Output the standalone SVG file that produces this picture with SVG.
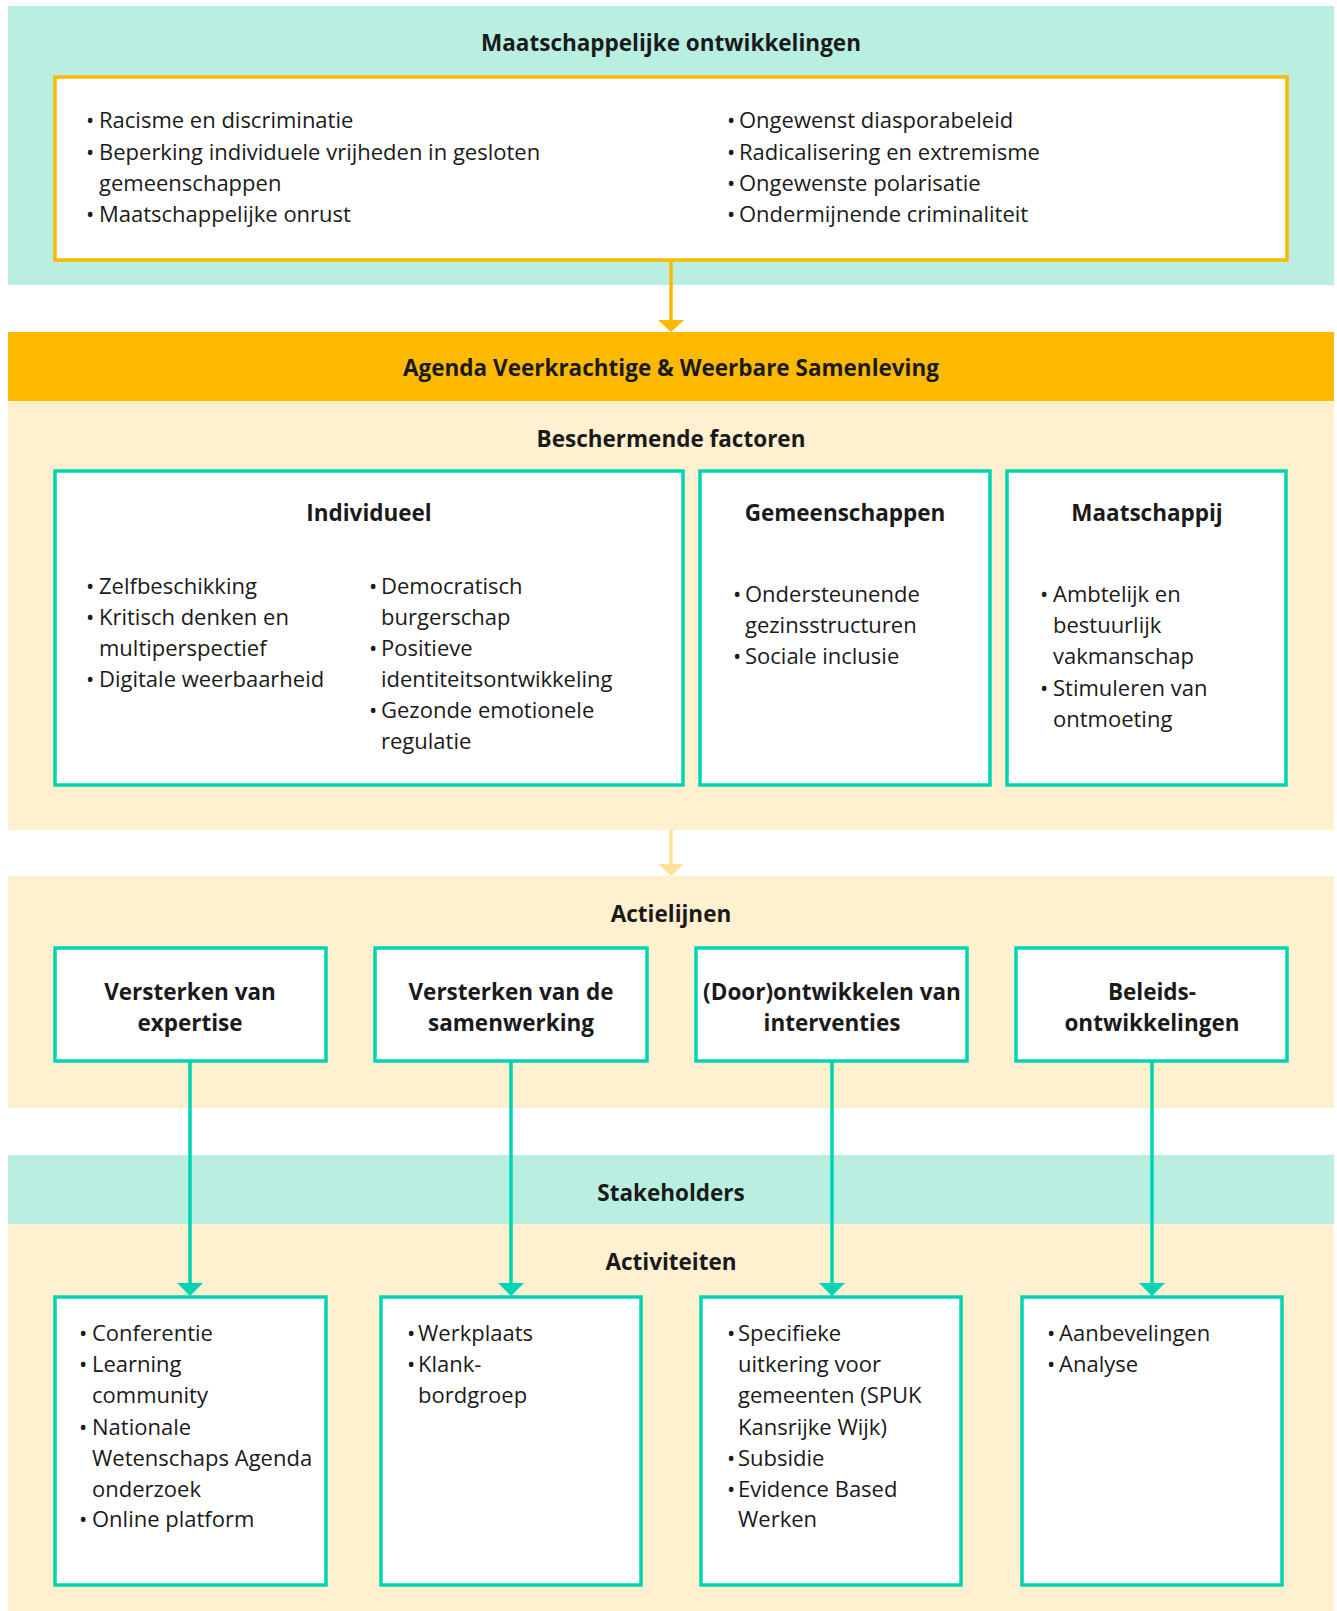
<svg xmlns="http://www.w3.org/2000/svg" width="1337" height="1611" viewBox="0 0 1337 1611">
<defs>
<style>
.teal{fill:#B8EFE1}
.orange{fill:#FDB900}
.cream{fill:#FFF0D0}
.obox{fill:#fff;stroke:#FDB900;stroke-width:3.5}
.tbox{fill:#fff;stroke:#00D4B4;stroke-width:3.5}
text{font-family:"Open Sans","Noto Sans","Liberation Sans",sans-serif;fill:#1a1a1a}
.t{font-size:22.5px;font-weight:700;text-anchor:middle}
.b{font-size:22px}
.c{stroke:#00D4B4;stroke-width:3.5;fill:none}
</style>
</defs>
<rect width="1337" height="1611" fill="#fff"/>
<g id="bands">
<rect class="teal" x="8" y="6" width="1326" height="279"/>
<rect class="orange" x="8" y="332" width="1326" height="69"/>
<rect class="cream" x="8" y="401" width="1326" height="429"/>
<rect class="cream" x="8" y="876" width="1326" height="232"/>
<rect class="teal" x="8" y="1155" width="1326" height="69"/>
<rect class="cream" x="8" y="1224" width="1326" height="387"/>
<text class="t" x="671" y="51">Maatschappelijke ontwikkelingen</text>
<text class="t" x="671" y="376">Agenda Veerkrachtige &amp; Weerbare Samenleving</text>
<text class="t" x="671" y="447">Beschermende factoren</text>
<text class="t" x="671" y="922">Actielijnen</text>
<text class="t" x="671" y="1201">Stakeholders</text>
<text class="t" x="671" y="1270">Activiteiten</text>
</g>
<g id="connectors">
<line x1="671" y1="260" x2="671" y2="322" stroke="#FDB900" stroke-width="3.5"/>
<path d="M658,320L684,320L671,332z" fill="#FDB900"/>
<line x1="671" y1="830" x2="671" y2="866" stroke="#FEE29A" stroke-width="3.5"/>
<path d="M658,864L684,864L671,876z" fill="#FEE29A"/>
<line class="c" x1="190" y1="1061" x2="190" y2="1285"/>
<path d="M177,1283L203,1283L190,1296z" fill="#00D4B4"/>
<line class="c" x1="511" y1="1061" x2="511" y2="1285"/>
<path d="M498,1283L524,1283L511,1296z" fill="#00D4B4"/>
<line class="c" x1="832" y1="1061" x2="832" y2="1285"/>
<path d="M819,1283L845,1283L832,1296z" fill="#00D4B4"/>
<line class="c" x1="1152" y1="1061" x2="1152" y2="1285"/>
<path d="M1139,1283L1165,1283L1152,1296z" fill="#00D4B4"/>
</g>
<g id="maatschappelijke-ontwikkelingen">
<rect class="obox" x="55" y="77" width="1232" height="183"/>
<text class="b" y="128"><tspan x="86">•</tspan><tspan x="99">Racisme en discriminatie</tspan></text>
<text class="b" y="160"><tspan x="86">•</tspan><tspan x="99">Beperking individuele vrijheden in gesloten</tspan></text>
<text class="b" y="191"><tspan x="99">gemeenschappen</tspan></text>
<text class="b" y="222"><tspan x="86">•</tspan><tspan x="99">Maatschappelijke onrust</tspan></text>
<text class="b" y="128"><tspan x="727">•</tspan><tspan x="739">Ongewenst diasporabeleid</tspan></text>
<text class="b" y="160"><tspan x="727">•</tspan><tspan x="739">Radicalisering en extremisme</tspan></text>
<text class="b" y="191"><tspan x="727">•</tspan><tspan x="739">Ongewenste polarisatie</tspan></text>
<text class="b" y="222"><tspan x="727">•</tspan><tspan x="739">Ondermijnende criminaliteit</tspan></text>
</g>
<g id="individueel">
<rect class="tbox" x="55" y="471" width="628" height="314"/>
<text class="t" x="369" y="521">Individueel</text>
<text class="b" y="594"><tspan x="86">•</tspan><tspan x="99">Zelfbeschikking</tspan></text>
<text class="b" y="625"><tspan x="86">•</tspan><tspan x="99">Kritisch denken en</tspan></text>
<text class="b" y="656"><tspan x="99">multiperspectief</tspan></text>
<text class="b" y="687"><tspan x="86">•</tspan><tspan x="99">Digitale weerbaarheid</tspan></text>
<text class="b" y="594"><tspan x="369">•</tspan><tspan x="381">Democratisch</tspan></text>
<text class="b" y="625"><tspan x="381">burgerschap</tspan></text>
<text class="b" y="656"><tspan x="369">•</tspan><tspan x="381">Positieve</tspan></text>
<text class="b" y="687"><tspan x="381">identiteitsontwikkeling</tspan></text>
<text class="b" y="718"><tspan x="369">•</tspan><tspan x="381">Gezonde emotionele</tspan></text>
<text class="b" y="749"><tspan x="381">regulatie</tspan></text>
</g>
<g id="gemeenschappen">
<rect class="tbox" x="700" y="471" width="290" height="314"/>
<text class="t" x="845" y="521">Gemeenschappen</text>
<text class="b" y="602"><tspan x="733">•</tspan><tspan x="745">Ondersteunende</tspan></text>
<text class="b" y="633"><tspan x="745">gezinsstructuren</tspan></text>
<text class="b" y="664"><tspan x="733">•</tspan><tspan x="745">Sociale inclusie</tspan></text>
</g>
<g id="maatschappij">
<rect class="tbox" x="1007" y="471" width="279" height="314"/>
<text class="t" x="1147" y="521">Maatschappij</text>
<text class="b" y="602"><tspan x="1040">•</tspan><tspan x="1053">Ambtelijk en</tspan></text>
<text class="b" y="633"><tspan x="1053">bestuurlijk</tspan></text>
<text class="b" y="664"><tspan x="1053">vakmanschap</tspan></text>
<text class="b" y="696"><tspan x="1040">•</tspan><tspan x="1053">Stimuleren van</tspan></text>
<text class="b" y="727"><tspan x="1053">ontmoeting</tspan></text>
</g>
<g id="actie-expertise">
<rect class="tbox" x="55" y="948" width="271" height="113"/>
<text class="t" x="190" y="1000">Versterken van</text>
<text class="t" x="190" y="1031">expertise</text>
</g>
<g id="actie-samenwerking">
<rect class="tbox" x="375" y="948" width="272" height="113"/>
<text class="t" x="511" y="1000">Versterken van de</text>
<text class="t" x="511" y="1031">samenwerking</text>
</g>
<g id="actie-interventies">
<rect class="tbox" x="696" y="948" width="271" height="113"/>
<text class="t" x="832" y="1000">(Door)ontwikkelen van</text>
<text class="t" x="832" y="1031">interventies</text>
</g>
<g id="actie-beleid">
<rect class="tbox" x="1016" y="948" width="271" height="113"/>
<text class="t" x="1152" y="1000">Beleids-</text>
<text class="t" x="1152" y="1031">ontwikkelingen</text>
</g>
<g id="act-expertise">
<rect class="tbox" x="55" y="1297" width="271" height="288"/>
<text class="b" y="1341"><tspan x="79">•</tspan><tspan x="92">Conferentie</tspan></text>
<text class="b" y="1372"><tspan x="79">•</tspan><tspan x="92">Learning</tspan></text>
<text class="b" y="1403"><tspan x="92">community</tspan></text>
<text class="b" y="1435"><tspan x="79">•</tspan><tspan x="92">Nationale</tspan></text>
<text class="b" y="1466"><tspan x="92">Wetenschaps Agenda</tspan></text>
<text class="b" y="1497"><tspan x="92">onderzoek</tspan></text>
<text class="b" y="1527"><tspan x="79">•</tspan><tspan x="92">Online platform</tspan></text>
</g>
<g id="act-samenwerking">
<rect class="tbox" x="381" y="1297" width="260" height="288"/>
<text class="b" y="1341"><tspan x="407">•</tspan><tspan x="418">Werkplaats</tspan></text>
<text class="b" y="1372"><tspan x="407">•</tspan><tspan x="418">Klank-</tspan></text>
<text class="b" y="1403"><tspan x="418">bordgroep</tspan></text>
</g>
<g id="act-interventies">
<rect class="tbox" x="701" y="1297" width="260" height="288"/>
<text class="b" y="1341"><tspan x="727">•</tspan><tspan x="738">Specifieke</tspan></text>
<text class="b" y="1372"><tspan x="738">uitkering voor</tspan></text>
<text class="b" y="1403"><tspan x="738">gemeenten (SPUK</tspan></text>
<text class="b" y="1435"><tspan x="738">Kansrijke Wijk)</tspan></text>
<text class="b" y="1466"><tspan x="727">•</tspan><tspan x="738">Subsidie</tspan></text>
<text class="b" y="1497"><tspan x="727">•</tspan><tspan x="738">Evidence Based</tspan></text>
<text class="b" y="1527"><tspan x="738">Werken</tspan></text>
</g>
<g id="act-beleid">
<rect class="tbox" x="1022" y="1297" width="260" height="288"/>
<text class="b" y="1341"><tspan x="1047">•</tspan><tspan x="1059">Aanbevelingen</tspan></text>
<text class="b" y="1372"><tspan x="1047">•</tspan><tspan x="1059">Analyse</tspan></text>
</g>
</svg>
